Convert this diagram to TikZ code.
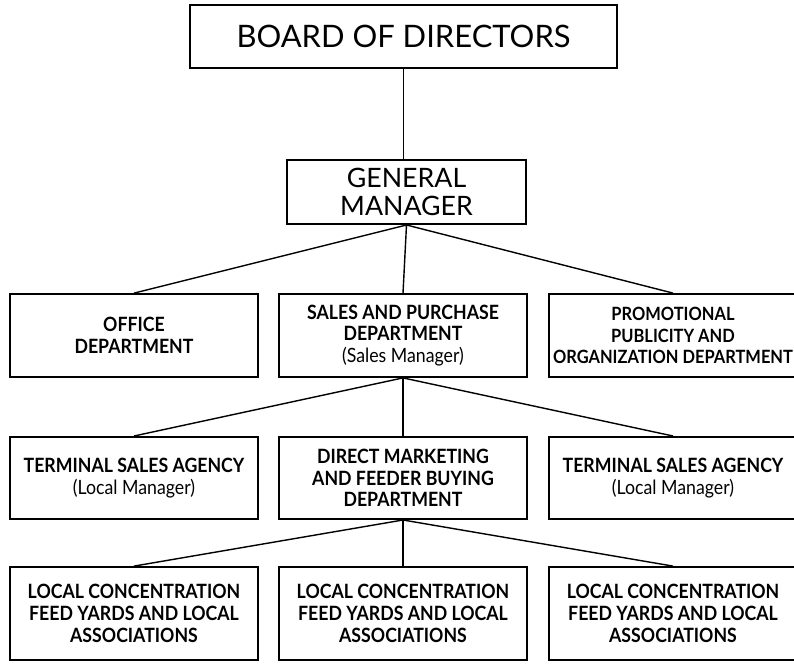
\documentclass[tikz,border=0pt]{standalone}
\usepackage{fontspec}
\setmainfont{Lato}
\newfontfamily\unitfont[FakeStretch=0.9]{Lato}

\begin{document}
\begin{tikzpicture}[x=0.025cm, y=-0.025cm,
    topbox/.style={draw, line width=1.4pt, align=center, inner sep=0pt,
        font=\fontsize{19}{20}\selectfont},
    unit/.style={draw, line width=1.4pt, align=center, inner sep=0pt,
        minimum width=6.2cm, font=\unitfont\bfseries\fontsize{14}{15.5}\selectfont},
    link/.style={line width=1pt}]
    \useasboundingbox (0,0) rectangle (794,663);

    \node[topbox, minimum width=10.67cm, minimum height=1.58cm, font=\fontsize{22}{24}\selectfont] (board) at (403.5,36.5) {BOARD OF DIRECTORS};
    \node[topbox, minimum width=5.98cm, minimum height=1.6cm] (gm) at (406.5,192) {GENERAL\\MANAGER};

    \node[unit, minimum height=2.07cm] (office) at (134,335.5) {OFFICE\\DEPARTMENT};
    \node[unit, minimum height=2.07cm] (sales) at (403,335.5) {SALES AND PURCHASE\\DEPARTMENT\\{\mdseries(Sales Manager)}};
    \node[unit, minimum height=2.07cm, font=\unitfont\bfseries\fontsize{13}{15.5}\selectfont] (promo) at (673,335.5) {PROMOTIONAL\\PUBLICITY AND\\ORGANIZATION DEPARTMENT};

    \node[unit, minimum height=2.05cm] (termA) at (134,478) {TERMINAL SALES AGENCY\\{\mdseries(Local Manager)}};
    \node[unit, minimum height=2.05cm] (direct) at (403,478) {DIRECT MARKETING\\AND FEEDER BUYING\\DEPARTMENT};
    \node[unit, minimum height=2.05cm] (termB) at (673,478) {TERMINAL SALES AGENCY\\{\mdseries(Local Manager)}};

    \node[unit, minimum height=2.32cm] (localA) at (134,613.5) {LOCAL CONCENTRATION\\FEED YARDS AND LOCAL\\ASSOCIATIONS};
    \node[unit, minimum height=2.32cm] (localB) at (403,613.5) {LOCAL CONCENTRATION\\FEED YARDS AND LOCAL\\ASSOCIATIONS};
    \node[unit, minimum height=2.32cm] (localC) at (673,613.5) {LOCAL CONCENTRATION\\FEED YARDS AND LOCAL\\ASSOCIATIONS};

    % lines of authority
    \draw[link] (board.south) -- (board.south |- gm.north);
    \foreach \child in {office, sales, promo}
        \draw[link] (gm.south) -- (\child.north);
    \foreach \child in {termA, direct, termB}
        \draw[link] (sales.south) -- (\child.north);
    \foreach \child in {localA, localB, localC}
        \draw[link] (direct.south) -- (\child.north);
\end{tikzpicture}
\end{document}
